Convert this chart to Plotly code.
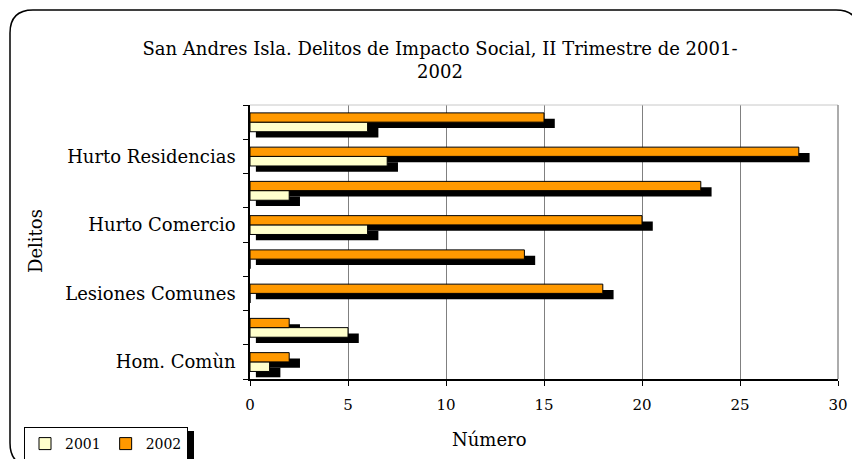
import plotly.graph_objects as go

# categories bottom -> top (Excel skipped every other label)
categories = ["Hom. Comùn", "", "Lesiones Comunes", "", "Hurto Comercio", "",
              "Hurto Residencias", ""]
delitos_2001 = [1, 5, 0, 0, 6, 2, 7, 6]
delitos_2002 = [2, 2, 18, 14, 20, 23, 28, 15]
x_ticks = [0, 5, 10, 15, 20, 25, 30]

pos = list(range(len(categories)))

# page body has an 8px margin -> work in screen pixels and shift
OFF = 8
FW, FH = 860 - OFF, 459 - OFF
# plot area in screen pixels
L, R, T, B = 250, 838, 105, 379
W, H = R - L, B - T


def px(x):
    return (x - L) / W


def py(y):
    return (B - y) / H


def cx(x):
    return (x - OFF) / FW


def cy(y):
    return 1 - (y - OFF) / FH


serif = "DejaVu Serif"
shadow_dx0, shadow_dx1, shadow_dy = 0.3, 0.55, 0.17

fig = go.Figure()

# black "depth" shadows first (no shadow for empty bars)
for vals, off, w in [(delitos_2002, 0.0, 0.27), (delitos_2001, -0.28, 0.28)]:
    fig.add_trace(go.Bar(
        y=pos, x=[v + shadow_dx1 - shadow_dx0 if v > 0 else 0 for v in vals],
        base=shadow_dx0, orientation="h", offset=off - shadow_dy, width=w,
        marker=dict(color="black", line=dict(width=0)),
        showlegend=False, hoverinfo="skip"))

fig.add_trace(go.Bar(
    y=pos, x=delitos_2001, name="2001", orientation="h", offset=-0.28, width=0.28,
    marker=dict(color="#FFFFCC", line=dict(color="black", width=1))))
fig.add_trace(go.Bar(
    y=pos, x=delitos_2002, name="2002", orientation="h", offset=0.0, width=0.27,
    marker=dict(color="#FF9900", line=dict(color="black", width=1))))

# outer rounded chart border
x0, y0, x1, y1, r = 10, 10, 859, 466, 23
path = (f"M {px(x0)},{py(y0 + r)} Q {px(x0)},{py(y0)} {px(x0 + r)},{py(y0)} "
        f"L {px(x1 - r)},{py(y0)} Q {px(x1)},{py(y0)} {px(x1)},{py(y0 + r)} "
        f"L {px(x1)},{py(y1 - r)} Q {px(x1)},{py(y1)} {px(x1 - r)},{py(y1)} "
        f"L {px(x0 + r)},{py(y1)} Q {px(x0)},{py(y1)} {px(x0)},{py(y1 - r)} Z")

shapes = [
    dict(type="path", path=path, xref="paper", yref="paper",
         line=dict(color="black", width=1.5), layer="below"),
    # plot area top / right border
    dict(type="line", xref="paper", yref="paper", x0=0, x1=1, y0=1, y1=1,
         line=dict(color="#C8C8C8", width=1)),
    dict(type="line", xref="paper", yref="paper", x0=1, x1=1, y0=0, y1=1,
         line=dict(color="#909090", width=1.5)),
    # legend shadow
    dict(type="rect", xref="paper", yref="paper", x0=px(32), x1=px(194),
         y0=py(475), y1=py(431), fillcolor="black", line=dict(width=0)),
]

annotations = [
    dict(text="Número", x=px(489), y=py(439), xref="paper", yref="paper",
         xanchor="center", yanchor="middle",
         showarrow=False, font=dict(family=serif, size=18)),
    dict(text="Delitos", x=px(35), y=py(241), xref="paper", yref="paper",
         xanchor="center", yanchor="middle",
         showarrow=False, textangle=-90, font=dict(family=serif, size=18)),
]

fig.update_layout(
    width=FW, height=FH,
    margin=dict(l=L - OFF, r=860 - R, t=T - OFF, b=459 - B),
    paper_bgcolor="white", plot_bgcolor="white",
    barmode="overlay",
    font=dict(family=serif, size=15, color="black"),
    title=dict(text="San Andres Isla. Delitos de Impacto Social, II Trimestre de 2001-<br>2002",
               x=cx(440), xref="container", xanchor="center",
               y=cy(55), yref="container", yanchor="middle",
               font=dict(family=serif, size=18)),
    xaxis=dict(range=[0, 30], tickvals=x_ticks, ticks="outside", ticklen=5,
               tickcolor="black", showline=True, linecolor="black", linewidth=1.5,
               showgrid=True, gridcolor="#808080", gridwidth=1, zeroline=False,
               tickfont=dict(size=15), ticklabelstandoff=6, automargin=False),
    yaxis=dict(range=[-0.5, len(categories) - 0.5], tickvals=pos, ticktext=categories,
               ticks="outside", ticklen=9, tickcolor="rgba(0,0,0,0)",
               showline=True, linecolor="black", linewidth=1.5,
               showgrid=False, zeroline=False, tickfont=dict(size=18),
               minor=dict(ticks="outside", tick0=0.5, dtick=1, ticklen=5,
                          tickcolor="black", showgrid=False),
               automargin=False),
    legend=dict(orientation="h", x=cx(24), y=cy(427),
                xref="container", yref="container", xanchor="left", yanchor="top",
                bgcolor="white", bordercolor="black", borderwidth=1,
                font=dict(family=serif, size=14), traceorder="normal"),
    shapes=shapes,
    annotations=annotations,
)

fig.write_html("out.html")
